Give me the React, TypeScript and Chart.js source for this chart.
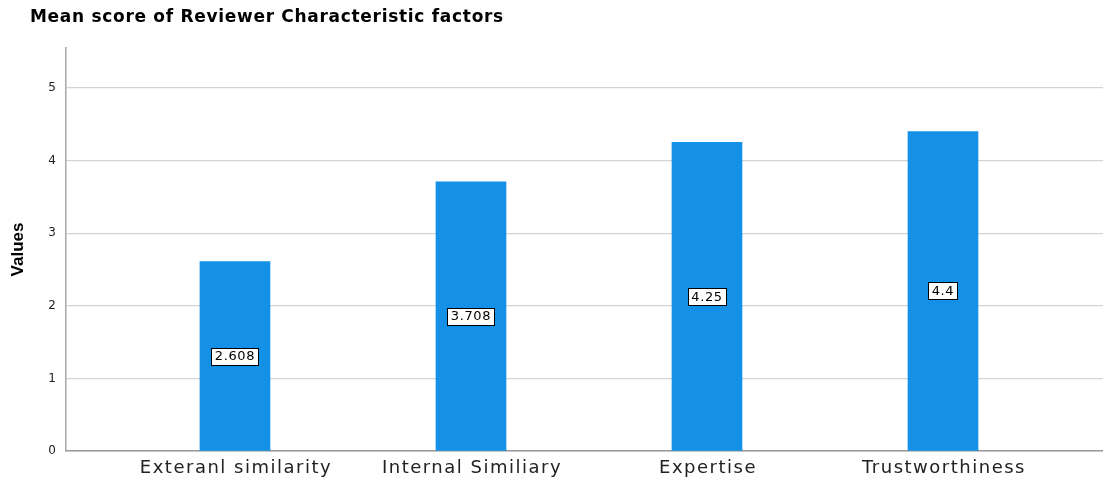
import React, { useEffect, useRef } from "react";
import { Chart, registerables } from "chart.js";

Chart.register(...registerables);

const chartTitle = "Mean score of Reviewer Characteristic factors";
const categories = ["Exteranl similarity", "Internal Similiary", "Expertise", "Trustworthiness"];
const meanValues = [2.608, 3.708, 4.25, 4.4];
const valueLabels = ["2.608", "3.708", "4.25", "4.4"];
const yTicks = [0, 1, 2, 3, 4, 5];

const textPlugin = {
  id: "textPlugin",
  afterDraw(chart: any) {
    const ctx = chart.ctx;
    // title
    ctx.save();
    ctx.font = "bold 17px 'DejaVu Sans'";
    (ctx as any).letterSpacing = "0.7px";
    ctx.fillStyle = "#000000";
    ctx.textAlign = "left";
    ctx.textBaseline = "middle";
    ctx.fillText(chartTitle, 30, 18);
    ctx.restore();

    // category labels
    const xs = chart.scales.x;
    ctx.save();
    ctx.font = "18px 'DejaVu Sans'";
    (ctx as any).letterSpacing = "1.5px";
    ctx.fillStyle = "#222222";
    ctx.textAlign = "center";
    ctx.textBaseline = "middle";
    categories.forEach((c, i) => {
      ctx.fillText(c, xs.getPixelForValue(i) + 1, xs.top + 17);
    });
    ctx.restore();

    // bar value labels
    const meta = chart.getDatasetMeta(0);
    ctx.save();
    ctx.font = "13px 'DejaVu Sans'";
    (ctx as any).letterSpacing = "0.6px";
    ctx.textAlign = "center";
    ctx.textBaseline = "middle";
    meta.data.forEach((el: any, i: number) => {
      const text = valueLabels[i];
      const cx = el.x;
      const cy = (el.y + el.base) / 2;
      const w = Math.round(ctx.measureText(text).width + 7);
      const h = 17;
      const lx = Math.round(cx - w / 2) + 0.5;
      const ly = Math.round(cy - h / 2) + 0.5;
      ctx.fillStyle = "#ffffff";
      ctx.fillRect(lx, ly, w, h);
      ctx.strokeStyle = "#000000";
      ctx.lineWidth = 1;
      ctx.strokeRect(lx, ly, w, h);
      ctx.fillStyle = "#000000";
      ctx.fillText(text, cx, cy + 1);
    });
    ctx.restore();
  },
};

export default function App() {
  const ref = useRef<HTMLCanvasElement>(null);
  useEffect(() => {
    document.body.style.margin = "0";
    const chart = new Chart(ref.current!, {
      type: "bar",
      data: {
        datasets: [
          {
            data: meanValues.map((v, i) => ({ x: i, y: v })),
            backgroundColor: "#1490e6",
            borderWidth: 0,
            barThickness: 70,
          },
        ],
      },
      plugins: [textPlugin],
      options: {
        responsive: false,
        animation: false,
        layout: { padding: { top: 48, left: 0, right: 0, bottom: 0 } },
        plugins: {
          legend: { display: false },
          tooltip: { enabled: false },
          title: { display: false },
        },
        scales: {
          x: {
            type: "linear",
            offset: false,
            min: -0.716,
            max: 3.678,
            afterBuildTicks: (scale: any) => {
              scale.ticks = categories.map((_, i) => ({ value: i }));
            },
            afterFit: (scale: any) => {
              scale.height = 28;
            },
            ticks: { display: false },
            grid: { display: false, drawTicks: false, offset: false },
            border: { display: true, color: "#9a9a9a", width: 1.5 },
          },
          y: {
            type: "linear",
            min: 0,
            max: 5.55,
            afterBuildTicks: (scale: any) => {
              scale.ticks = yTicks.map((v) => ({ value: v }));
            },
            afterFit: (scale: any) => {
              scale.width = 66;
            },
            ticks: {
              color: "#222222",
              font: { family: "'DejaVu Sans'", size: 12 },
              padding: 10,
            },
            grid: { color: "#d4d4d4", lineWidth: 1.2, drawTicks: false },
            border: { display: true, color: "#a8a8a8", width: 1.5 },
            title: {
              display: true,
              text: "Values",
              color: "#000000",
              font: { family: "'Liberation Sans Narrow', 'Liberation Sans'", size: 17, weight: "bold" },
              padding: { top: 8, bottom: 0 },
            },
          },
        },
      } as any,
    });
    return () => chart.destroy();
  }, []);
  return (
    <div style={{ width: 1103, height: 479 }}>
      <canvas ref={ref} width={1103} height={479} />
    </div>
  );
}
